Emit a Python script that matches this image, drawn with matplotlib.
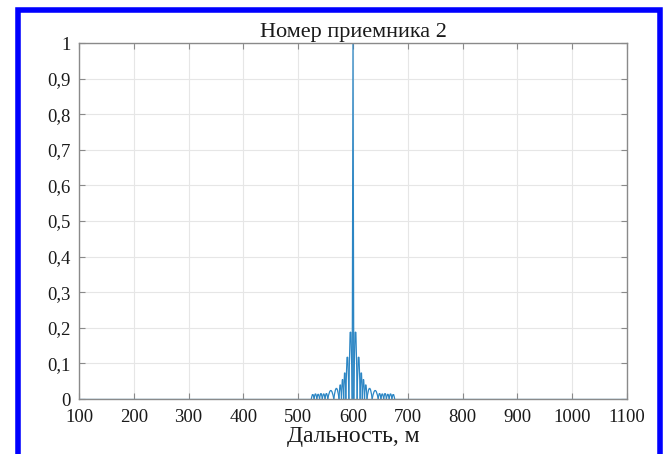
import numpy as np
import matplotlib
matplotlib.use("Agg")
import matplotlib.pyplot as plt
from matplotlib.path import Path
from matplotlib.patches import PathPatch, Rectangle

# range axis, m
x_range = [100, 1100]
x_ticks = list(range(100, 1101, 100))
y_ticks = [0, 0.1, 0.2, 0.3, 0.4, 0.5, 0.6, 0.7, 0.8, 0.9, 1.0]
y_labels = ["0", "0,1", "0,2", "0,3", "0,4", "0,5", "0,6", "0,7", "0,8", "0,9", "1"]

# zero crossings of the correlation response and the lobe peak between each pair
nulls = [524, 529, 534, 539, 544, 549, 554, 565, 574.5, 579, 583, 587, 592.5,
         598.5, 601.5,
         607.5, 613, 617, 621, 625.5, 635, 646, 651, 656, 661, 666, 671, 676]
peaks = [0.013, 0.015, 0.014, 0.016, 0.015, 0.016, 0.024, 0.030, 0.042, 0.058,
         0.078, 0.125, 0.20,
         1.0,
         0.20, 0.125, 0.078, 0.058, 0.042, 0.030, 0.024,
         0.016, 0.015, 0.016, 0.014, 0.015, 0.013]

title = "Номер приемника 2"
xlabel = "Дальность, м"

plt.rcParams['font.family'] = ['Liberation Serif', 'DejaVu Serif']
line_c = '#2c86c4'

fig = plt.figure(figsize=(6.65, 4.54), dpi=100)
ax = fig.add_axes([79/665, 1-399/454, 548/665, 356/454])

# flat part of the response
ax.plot([x_range[0], nulls[0]], [0, 0], color=line_c, lw=0.9)
ax.plot([nulls[-1], x_range[1]], [0, 0], color=line_c, lw=0.9)

# lobes
for a, b, h in zip(nulls[:-1], nulls[1:], peaks):
    m = (a + b) / 2
    if h >= 0.5:
        ax.plot([a, m, b], [0, h, 0], color=line_c, lw=0.9)
    else:
        p = Path([(a, 0), (m, 2*h), (b, 0)], [Path.MOVETO, Path.CURVE3, Path.CURVE3])
        ax.add_patch(PathPatch(p, fill=False, edgecolor=line_c, lw=0.9))

ax.set_xlim(x_range)
ax.set_ylim(0, 1)
ax.set_xticks(x_ticks)
ax.set_yticks(y_ticks)
ax.set_yticklabels(y_labels)
ax.grid(True, color='#e6e6e6', lw=0.8)
ax.set_axisbelow(True)
ax.tick_params(direction='in', length=4, width=0.8, color='#8a8a8a',
               top=True, right=True, labelsize=13.5, colors='#8a8a8a',
               labelcolor='#1a1a1a')
ax.tick_params(axis='x', pad=7)
ax.tick_params(axis='y', pad=6)
for s in ax.spines.values():
    s.set_color('#8a8a8a')
    s.set_linewidth(1.0)

ax.set_title(title, fontsize=16, pad=4, color='#1a1a1a')
ax.set_xlabel(xlabel, fontsize=17, labelpad=0, color='#1a1a1a')

# blue frame
fig.patches.append(Rectangle((18/665, -0.1), 642/665, 1.1 - 10/454,
                             transform=fig.transFigure, fill=False,
                             edgecolor='#0000ff', lw=4))

fig.savefig("out.png", dpi=100)
